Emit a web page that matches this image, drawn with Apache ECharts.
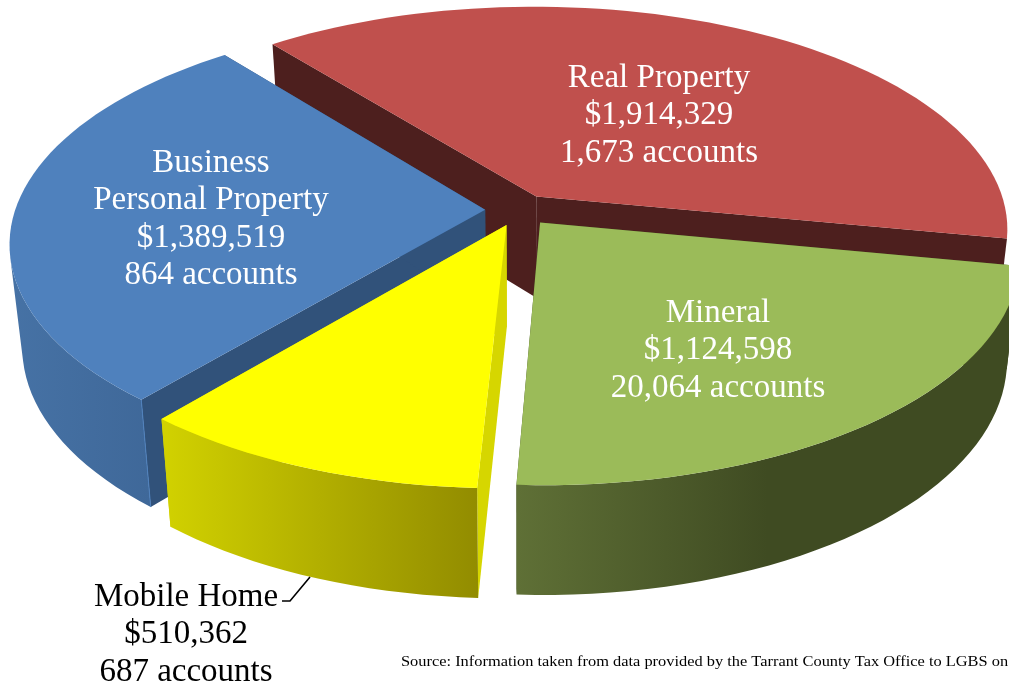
<!DOCTYPE html>
<html>
<head>
<meta charset="utf-8">
<style>
    html,body{margin:0;padding:0;background:#fff;overflow:hidden;}
    #main{width:1009px;height:687px;}
</style>
</head>
<body>
<div id="main"></div>
<script src="https://cdn.jsdelivr.net/npm/echarts@6/dist/echarts.min.js"></script>
<script>
    // values, clockwise from the right side of the pie
    var names = ['Real Property', 'Mineral', 'Mobile Home', 'Business Personal Property'];
    var amounts = [1914329, 1124598, 510362, 1389519];
    var amountLabels = ['$1,914,329', '$1,124,598', '$510,362', '$1,389,519'];
    var accountLabels = ['1,673 accounts', '20,064 accounts', '687 accounts', '864 accounts'];
    var sourceNote = 'Source: Information taken from data provided by the Tarrant County Tax Office to LGBS on';

    // look of the pie
    var firstSliceAngle = 231.3;
    var drawOrder = [0, 3, 1, 2];
    var topColors = ['#c0504d', '#9bbb59', '#ffff00', '#4f81bd'];
    var cutColors = ['#4d1f1e', '#3f4a22', '#d6d600', '#31527a'];
    var rimColors = [
        ['#4d1f1e', '#4d1f1e'],
        ['#5f7036', '#3f4b22', '#3f4b22'],
        ['#d2d200', '#928c00'],
        ['#4672a5', '#3f6899']
    ];
    var edgeColors = [null, null, null, '#4f81bd'];
    var textSpots = [[659, 78], [718, 313], [186, 597], [211, 163]];
    var textColors = ['#fff', '#fff', '#000', '#fff'];

    var pie = {cx: 519, cy: 210, r: 470, rk: 220.8, persp: 0.1442, explode: 0.072, drop: 101.5, qx: 0.975, qy: 1.03};

    var total = amounts.reduce(function (a, b) { return a + b; }, 0);

    function project(u, v, bottom) {
        var s = 1 / (1 - pie.persp * v);
        var x = pie.r * u * s, y = pie.rk * v * s;
        if (bottom) {
            return [pie.cx + x * pie.qx, pie.cy + y * pie.qy + pie.drop];
        }
        return [pie.cx + x, pie.cy + y];
    }

    function sliceAngles(i) {
        var start = firstSliceAngle;
        for (var k = 0; k < i; k++) {
            start += amounts[k] / total * 360;
        }
        // slice 0 wraps round past 360, the rest carry on from its end
        if (i > 0) {
            start -= 360;
        }
        return [start, start + amounts[i] / total * 360];
    }

    function arcPoints(a0, a1, off, bottom) {
        var pts = [];
        var n = Math.ceil(Math.abs(a1 - a0) / 2);
        for (var j = 0; j <= n; j++) {
            var a = (a0 + (a1 - a0) * j / n) * Math.PI / 180;
            pts.push(project(off[0] + Math.cos(a), off[1] + Math.sin(a), bottom));
        }
        return pts;
    }

    // only the part of the outer wall that faces the viewer
    function facingIndexes(top, bot) {
        var keep = [];
        for (var j = 0; j < top.length; j++) {
            var next = top[Math.min(j + 1, top.length - 1)];
            var prev = top[Math.max(j - 1, 0)];
            var cross = (next[0] - prev[0]) * (bot[j][1] - top[j][1]) - (next[1] - prev[1]) * (bot[j][0] - top[j][0]);
            if (cross < 0) {
                keep.push(j);
            }
        }
        return keep;
    }

    function renderSlice(params, api) {
        var i = api.value(0);
        var ang = sliceAngles(i);
        var mid = (ang[0] + ang[1]) / 2 * Math.PI / 180;
        var off = [pie.explode * Math.cos(mid), pie.explode * Math.sin(mid)];
        var topC = project(off[0], off[1], false);
        var botC = project(off[0], off[1], true);
        var top = arcPoints(ang[0], ang[1], off, false);
        var bot = arcPoints(ang[0], ang[1], off, true);
        var children = [];

        // the two cut faces
        [[top[0], bot[0]], [top[top.length - 1], bot[bot.length - 1]]].forEach(function (e) {
            children.push({
                type: 'polygon',
                shape: {points: [topC, e[0], e[1], botC]},
                style: {fill: cutColors[i]}
            });
        });
        // outer wall
        var stops = rimColors[i].map(function (c, k, all) {
            return {offset: k / (all.length - 1), color: c};
        });
        var keep = facingIndexes(top, bot);
        if (keep.length > 1) {
            var upper = keep.map(function (j) { return top[j]; });
            var lower = keep.map(function (j) { return bot[j]; });
            children.push({
                type: 'polygon',
                shape: {points: upper.concat(lower.reverse())},
                style: {fill: new echarts.graphic.LinearGradient(0, 0, 1, 0, stops)}
            });
        }
        if (edgeColors[i]) {
            children.push({
                type: 'line',
                shape: {x1: top[0][0], y1: top[0][1], x2: bot[0][0], y2: bot[0][1]},
                style: {stroke: edgeColors[i], lineWidth: 1}
            });
        }
        // top face
        children.push({
            type: 'polygon',
            shape: {points: [topC].concat(top)},
            style: {fill: topColors[i]}
        });
        return {type: 'group', children: children};
    }

    function labelLines(i) {
        var first = names[i] === 'Business Personal Property' ? ['Business', 'Personal Property'] : [names[i]];
        return first.concat([amountLabels[i], accountLabels[i]]);
    }

    var labelGraphics = [];
    names.forEach(function (n, i) {
        labelLines(i).forEach(function (line, k) {
            labelGraphics.push({
                type: 'text',
                z: 10,
                x: textSpots[i][0],
                y: textSpots[i][1] + k * 37.6,
                style: {
                    text: line,
                    fill: textColors[i],
                    font: '33px "Liberation Serif"',
                    align: 'center',
                    verticalAlign: 'middle'
                }
            });
        });
    });
    labelGraphics.push({
        type: 'polyline',
        z: 10,
        shape: {points: [[282, 601], [290, 601], [310, 577]]},
        style: {stroke: '#000', lineWidth: 1.6, fill: null}
    });
    labelGraphics.push({
        type: 'text',
        z: 10,
        x: 401,
        y: 662,
        scaleX: 1.13,
        style: {
            text: sourceNote,
            fill: '#000',
            font: '14.5px "Liberation Serif"',
            align: 'left',
            verticalAlign: 'middle'
        }
    });

    var option = {
        animation: false,
        backgroundColor: '#fff',
        graphic: labelGraphics,
        series: [{
            type: 'custom',
            coordinateSystem: 'none',
            renderItem: renderSlice,
            data: drawOrder.map(function (i) { return [i, amounts[i]]; })
        }]
    };

    echarts.init(document.getElementById('main')).setOption(option);
</script>
</body>
</html>
